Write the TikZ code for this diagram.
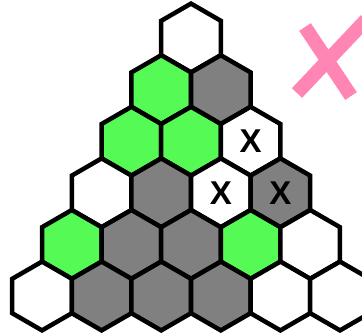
\documentclass[tikz,border=0pt]{standalone}
\usepackage{fontspec}
\setmainfont{Liberation Sans}
\usetikzlibrary{shapes.geometric}
\definecolor{hexgreen}{HTML}{55FA55}
\definecolor{hexgray}{HTML}{808080}
\definecolor{markpink}{HTML}{FF85B5}
\tikzset{
  hexcell/.style={regular polygon, regular polygon sides=6, shape border rotate=30,
    minimum size=68.8pt, inner sep=0pt, draw=black, line width=4.5pt, line join=miter},
  xlabel/.style={font=\fontsize{33}{33}\selectfont\bfseries, inner sep=0pt},
  pinkstroke/.style={draw=markpink, line width=14pt, line cap=butt}
}
\begin{document}
\begin{tikzpicture}[x=1pt,y=-1pt]
  \useasboundingbox (0,0) rectangle (362,335);
  \clip (0,0) rectangle (362,335);
  \fill[white] (0,0) rectangle (362,335);
  \foreach \r/\k/\c/\t in {1/1/white/{},
      2/1/hexgreen/{}, 2/2/hexgray/{},
      3/1/hexgreen/{}, 3/2/hexgreen/{}, 3/3/white/X,
      4/1/white/{}, 4/2/hexgray/{}, 4/3/white/X, 4/4/hexgray/X,
      5/1/hexgreen/{}, 5/2/hexgray/{}, 5/3/hexgray/{}, 5/4/hexgreen/{}, 5/5/white/{},
      6/1/white/{}, 6/2/hexgray/{}, 6/3/hexgray/{}, 6/4/hexgray/{}, 6/5/white/{}, 6/6/white/{}}
  {
    \node[hexcell, fill=\c] (h\r\k) at ({191+(2*\k-\r-1)*29.8}, {38+(\r-1)*51.6}) {};
    \node[xlabel] (t\r\k) at (h\r\k.center) {\t};
  }
  \coordinate (p1a) at (305,27);
  \coordinate (p1b) at (351,96);
  \coordinate (p2a) at (297,93);
  \coordinate (p2b) at (366,20);
  \draw[pinkstroke] (p1a) -- (p1b);
  \draw[pinkstroke] (p2a) -- (p2b);
\end{tikzpicture}
\end{document}
